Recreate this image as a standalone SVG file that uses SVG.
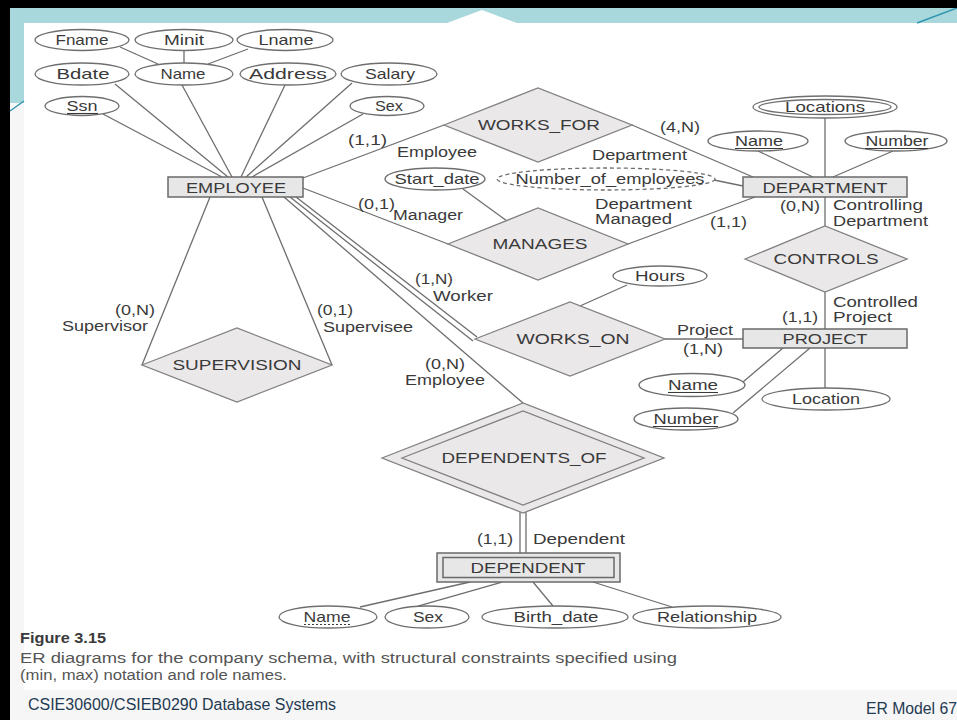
<svg xmlns="http://www.w3.org/2000/svg" width="957" height="720" viewBox="0 0 957 720">
<style>
.ln{stroke:#6e6e6e;stroke-width:1.3;fill:none}
.att{fill:#fff;stroke:#6e6e6e;stroke-width:1.3}
.dash{stroke-dasharray:4 3}
.ent{fill:#e7e7e7;stroke:#6a6a6a;stroke-width:1.5}
.rel{fill:#ebe8ea;stroke:#808080;stroke-width:1.3}
text{font-family:"Liberation Sans",Arial,Helvetica,sans-serif;font-size:15px;fill:#3a3a3a}
.c{text-anchor:middle}
.rl text{font-size:14px}
.ul{stroke:#3a3a3a;stroke-width:1.1}
.cap{font-size:14px;fill:#555}
.ft{font-size:16px;fill:#1f3a52}
</style>
<!-- slide background -->
<rect x="0" y="0" width="957" height="720" fill="#f6f6f6"/>
<rect x="24" y="23" width="933" height="667" fill="#ffffff"/>
<rect x="10" y="8" width="947" height="15" fill="#a9d8dc"/>
<rect x="10" y="8" width="14" height="95" fill="#a9d8dc"/>
<polygon points="447,23 482,10 517,23" fill="#ffffff"/>
<line x1="917" y1="23" x2="957" y2="8" stroke="#2f95b0" stroke-width="1.5"/>
<line x1="10" y1="111" x2="24" y2="101" stroke="#2f95b0" stroke-width="1.5"/>
<rect x="0" y="0" width="957" height="8" fill="#000"/>
<rect x="0" y="0" width="10" height="720" fill="#000"/>

<g id="connectors">
<line class="ln" x1="120" y1="47" x2="158" y2="64"/>
<line class="ln" x1="184" y1="50.5" x2="184" y2="63"/>
<line class="ln" x1="248" y1="49" x2="208" y2="64"/>
<line class="ln" x1="103" y1="114" x2="222" y2="177"/>
<line class="ln" x1="115" y1="84" x2="228" y2="177"/>
<line class="ln" x1="182" y1="85" x2="232" y2="177"/>
<line class="ln" x1="285" y1="85" x2="241" y2="177"/>
<line class="ln" x1="352" y1="83" x2="246" y2="177"/>
<line class="ln" x1="363" y1="114" x2="252" y2="177"/>
<line class="ln" x1="303" y1="178" x2="444" y2="125"/>
<line class="ln" x1="632" y1="125" x2="753" y2="177"/>
<line class="ln" x1="714" y1="180" x2="743" y2="186"/>
<line class="ln" x1="303" y1="188" x2="448" y2="244"/>
<line class="ln" x1="628" y1="244" x2="755" y2="197"/>
<line class="ln" x1="463" y1="189" x2="507" y2="221"/>
<line class="ln" x1="825" y1="118" x2="825" y2="177"/>
<line class="ln" x1="758" y1="151" x2="813" y2="177"/>
<line class="ln" x1="893" y1="151" x2="833" y2="177"/>
<line class="ln" x1="825" y1="197" x2="825" y2="226"/>
<line class="ln" x1="825" y1="292" x2="825" y2="329"/>
<line class="ln" x1="665" y1="339" x2="743" y2="339"/>
<line class="ln" x1="627" y1="285" x2="580" y2="306"/>
<line class="ln" x1="743" y1="382" x2="783" y2="348"/>
<line class="ln" x1="733" y1="413" x2="810" y2="348"/>
<line class="ln" x1="825" y1="348" x2="825" y2="388"/>
<line class="ln" x1="210" y1="197" x2="142" y2="365"/>
<line class="ln" x1="262" y1="197" x2="332" y2="365"/>
<line class="ln" x1="290" y1="197" x2="473" y2="341"/>
<line class="ln" x1="296" y1="197" x2="477" y2="337"/>
<line class="ln" x1="284" y1="197" x2="523" y2="403"/>
<line class="ln" x1="520" y1="512" x2="520" y2="553"/>
<line class="ln" x1="526" y1="512" x2="526" y2="553"/>
<line class="ln" x1="470" y1="582" x2="360" y2="607"/>
<line class="ln" x1="502" y1="582" x2="418" y2="606"/>
<line class="ln" x1="533" y1="582" x2="553" y2="606"/>
<line class="ln" x1="593" y1="582" x2="672" y2="607"/>
</g>

<g id="att-fname"><ellipse class="att" cx="82" cy="40" rx="47" ry="10.5"/><text class="c" x="82" y="45" textLength="53" lengthAdjust="spacingAndGlyphs">Fname</text></g>
<g id="att-minit"><ellipse class="att" cx="184" cy="40" rx="49" ry="10.5"/><text class="c" x="184" y="45" textLength="40" lengthAdjust="spacingAndGlyphs">Minit</text></g>
<g id="att-lname"><ellipse class="att" cx="285" cy="40" rx="48" ry="10.5"/><text class="c" x="286" y="45" textLength="55" lengthAdjust="spacingAndGlyphs">Lname</text></g>
<g id="att-bdate"><ellipse class="att" cx="82" cy="74" rx="47" ry="11"/><text class="c" x="83" y="79" textLength="53" lengthAdjust="spacingAndGlyphs">Bdate</text></g>
<g id="att-name"><ellipse class="att" cx="184" cy="74" rx="49" ry="11"/><text class="c" x="183" y="79" textLength="45" lengthAdjust="spacingAndGlyphs">Name</text></g>
<g id="att-address"><ellipse class="att" cx="288" cy="74" rx="48" ry="11"/><text class="c" x="288" y="79" textLength="78" lengthAdjust="spacingAndGlyphs">Address</text></g>
<g id="att-salary"><ellipse class="att" cx="389" cy="74" rx="48" ry="11"/><text class="c" x="390" y="79" textLength="50" lengthAdjust="spacingAndGlyphs">Salary</text></g>
<g id="att-ssn"><ellipse class="att" cx="82" cy="106" rx="37" ry="9.5"/><text class="c" x="82" y="111" textLength="31" lengthAdjust="spacingAndGlyphs">Ssn</text><line class="ul" x1="67" y1="113.5" x2="98" y2="113.5"/></g>
<g id="att-sex"><ellipse class="att" cx="387" cy="106" rx="37" ry="9.5"/><text class="c" x="389" y="111" textLength="28" lengthAdjust="spacingAndGlyphs">Sex</text></g>

<g id="employee"><rect class="ent" x="168" y="177" width="135" height="20"/><text class="c" x="236" y="192.5" textLength="100" lengthAdjust="spacingAndGlyphs">EMPLOYEE</text></g>

<g id="works-for"><polygon class="rel" points="444,125 538,88 632,125 538,162"/><text class="c" x="539" y="130" textLength="122" lengthAdjust="spacingAndGlyphs">WORKS_FOR</text></g>
<g id="att-startdate"><ellipse class="att" cx="435" cy="179" rx="50" ry="11"/><text class="c" x="437" y="184" textLength="85" lengthAdjust="spacingAndGlyphs">Start_date</text></g>
<g id="att-numemp"><ellipse class="att dash" cx="606" cy="179" rx="109" ry="11"/><text class="c" x="610" y="184" textLength="189" lengthAdjust="spacingAndGlyphs">Number_of_employees</text></g>
<g id="manages"><polygon class="rel" points="448,244 538,208 628,244 538,280"/><text class="c" x="540" y="249" textLength="95" lengthAdjust="spacingAndGlyphs">MANAGES</text></g>

<g id="att-locations"><ellipse class="att" cx="825" cy="107" rx="72" ry="11"/><ellipse class="att" cx="825" cy="107" rx="66" ry="7.5"/><text class="c" x="825" y="112" textLength="80" lengthAdjust="spacingAndGlyphs">Locations</text></g>
<g id="att-dname"><ellipse class="att" cx="758" cy="141" rx="50" ry="10"/><text class="c" x="759" y="146" textLength="48" lengthAdjust="spacingAndGlyphs">Name</text><line class="ul" x1="735" y1="148.5" x2="783" y2="148.5"/></g>
<g id="att-dnumber"><ellipse class="att" cx="896" cy="141" rx="51" ry="10"/><text class="c" x="897" y="146" textLength="63" lengthAdjust="spacingAndGlyphs">Number</text><line class="ul" x1="865" y1="148.5" x2="928" y2="148.5"/></g>
<g id="department"><rect class="ent" x="743" y="177" width="164" height="20"/><text class="c" x="825" y="192.5" textLength="125" lengthAdjust="spacingAndGlyphs">DEPARTMENT</text></g>
<g id="controls"><polygon class="rel" points="745,259 825,226 907,259 825,292"/><text class="c" x="826" y="264" textLength="105" lengthAdjust="spacingAndGlyphs">CONTROLS</text></g>
<g id="project"><rect class="ent" x="743" y="329" width="164" height="19"/><text class="c" x="825" y="344" textLength="85" lengthAdjust="spacingAndGlyphs">PROJECT</text></g>
<g id="works-on"><polygon class="rel" points="475,339 570,302 665,339 570,376"/><text class="c" x="573" y="344" textLength="113" lengthAdjust="spacingAndGlyphs">WORKS_ON</text></g>
<g id="att-hours"><ellipse class="att" cx="660" cy="276" rx="47" ry="10"/><text class="c" x="660" y="281" textLength="50" lengthAdjust="spacingAndGlyphs">Hours</text></g>
<g id="att-pname"><ellipse class="att" cx="692" cy="385" rx="53" ry="11.5"/><text class="c" x="693" y="390" textLength="50" lengthAdjust="spacingAndGlyphs">Name</text><line class="ul" x1="668" y1="392.5" x2="718" y2="392.5"/></g>
<g id="att-pnumber"><ellipse class="att" cx="686" cy="419" rx="52" ry="11"/><text class="c" x="686" y="424" textLength="65" lengthAdjust="spacingAndGlyphs">Number</text><line class="ul" x1="653" y1="426.5" x2="718" y2="426.5"/></g>
<g id="att-location"><ellipse class="att" cx="826" cy="399" rx="64" ry="11"/><text class="c" x="826" y="404" textLength="68" lengthAdjust="spacingAndGlyphs">Location</text></g>

<g id="supervision"><polygon class="rel" points="142,365 237,328 332,365 237,402"/><text class="c" x="237" y="370" textLength="129" lengthAdjust="spacingAndGlyphs">SUPERVISION</text></g>

<g id="dependents-of"><polygon class="rel" points="382,458 523,403 664,458 523,513"/><polygon class="rel" points="402,458 523,411 644,458 523,505"/><text class="c" x="524" y="463" textLength="165" lengthAdjust="spacingAndGlyphs">DEPENDENTS_OF</text></g>
<g id="dependent"><rect class="ent" x="437" y="553" width="183" height="29"/><rect class="ent" x="443" y="557.5" width="171" height="20"/><text class="c" x="528" y="573" textLength="115" lengthAdjust="spacingAndGlyphs">DEPENDENT</text></g>

<g id="att-depname"><ellipse class="att" cx="328" cy="617" rx="49" ry="11"/><text class="c" x="327" y="622" textLength="47" lengthAdjust="spacingAndGlyphs">Name</text><line class="ul" x1="304" y1="624.5" x2="351" y2="624.5" stroke-dasharray="2 2"/></g>
<g id="att-depsex"><ellipse class="att" cx="427" cy="617" rx="42" ry="11"/><text class="c" x="428" y="622" textLength="30" lengthAdjust="spacingAndGlyphs">Sex</text></g>
<g id="att-birthdate"><ellipse class="att" cx="555" cy="617" rx="73" ry="11"/><text class="c" x="556" y="622" textLength="85" lengthAdjust="spacingAndGlyphs">Birth_date</text></g>
<g id="att-relationship"><ellipse class="att" cx="707" cy="617" rx="74" ry="11"/><text class="c" x="707" y="622" textLength="100" lengthAdjust="spacingAndGlyphs">Relationship</text></g>

<g id="role-labels" class="rl">
<text x="348" y="145" textLength="39" lengthAdjust="spacingAndGlyphs">(1,1)</text>
<text x="397" y="157" textLength="80" lengthAdjust="spacingAndGlyphs">Employee</text>
<text x="660" y="132" textLength="40" lengthAdjust="spacingAndGlyphs">(4,N)</text>
<text x="592" y="160" textLength="95" lengthAdjust="spacingAndGlyphs">Department</text>
<text x="358" y="209" textLength="37" lengthAdjust="spacingAndGlyphs">(0,1)</text>
<text x="393" y="220" textLength="70" lengthAdjust="spacingAndGlyphs">Manager</text>
<text x="595" y="209" textLength="97" lengthAdjust="spacingAndGlyphs">Department</text>
<text x="595" y="224" textLength="77" lengthAdjust="spacingAndGlyphs">Managed</text>
<text x="710" y="227" textLength="37" lengthAdjust="spacingAndGlyphs">(1,1)</text>
<text x="780" y="211" textLength="40" lengthAdjust="spacingAndGlyphs">(0,N)</text>
<text x="833" y="210" textLength="90" lengthAdjust="spacingAndGlyphs">Controlling</text>
<text x="833" y="226" textLength="95" lengthAdjust="spacingAndGlyphs">Department</text>
<text x="833" y="307" textLength="85" lengthAdjust="spacingAndGlyphs">Controlled</text>
<text x="833" y="322" textLength="59" lengthAdjust="spacingAndGlyphs">Project</text>
<text x="782" y="322" textLength="36" lengthAdjust="spacingAndGlyphs">(1,1)</text>
<text x="677" y="335" textLength="56" lengthAdjust="spacingAndGlyphs">Project</text>
<text x="683" y="354" textLength="40" lengthAdjust="spacingAndGlyphs">(1,N)</text>
<text x="415" y="284" textLength="38" lengthAdjust="spacingAndGlyphs">(1,N)</text>
<text x="433" y="301" textLength="60" lengthAdjust="spacingAndGlyphs">Worker</text>
<text x="425" y="369" textLength="40" lengthAdjust="spacingAndGlyphs">(0,N)</text>
<text x="405" y="385" textLength="80" lengthAdjust="spacingAndGlyphs">Employee</text>
<text x="115" y="315" textLength="40" lengthAdjust="spacingAndGlyphs">(0,N)</text>
<text x="62" y="331" textLength="86" lengthAdjust="spacingAndGlyphs">Supervisor</text>
<text x="317" y="315" textLength="36" lengthAdjust="spacingAndGlyphs">(0,1)</text>
<text x="323" y="332" textLength="90" lengthAdjust="spacingAndGlyphs">Supervisee</text>
<text x="477" y="544" textLength="36" lengthAdjust="spacingAndGlyphs">(1,1)</text>
<text x="533" y="544" textLength="92" lengthAdjust="spacingAndGlyphs">Dependent</text>
</g>

<g id="caption">
<text x="20" y="643" font-weight="bold" fill="#222" textLength="86" lengthAdjust="spacingAndGlyphs">Figure 3.15</text>
<text class="cap" x="20" y="663" textLength="657" lengthAdjust="spacingAndGlyphs">ER diagrams for the company schema, with structural constraints specified using</text>
<text class="cap" x="20" y="680" textLength="267" lengthAdjust="spacingAndGlyphs">(min, max) notation and role names.</text>
</g>
<g id="footer">
<text class="ft" x="28" y="710" textLength="308" lengthAdjust="spacingAndGlyphs">CSIE30600/CSIEB0290 Database Systems</text>
<text class="ft" x="866" y="714" textLength="91" lengthAdjust="spacingAndGlyphs">ER Model 67</text>
</g>
</svg>
